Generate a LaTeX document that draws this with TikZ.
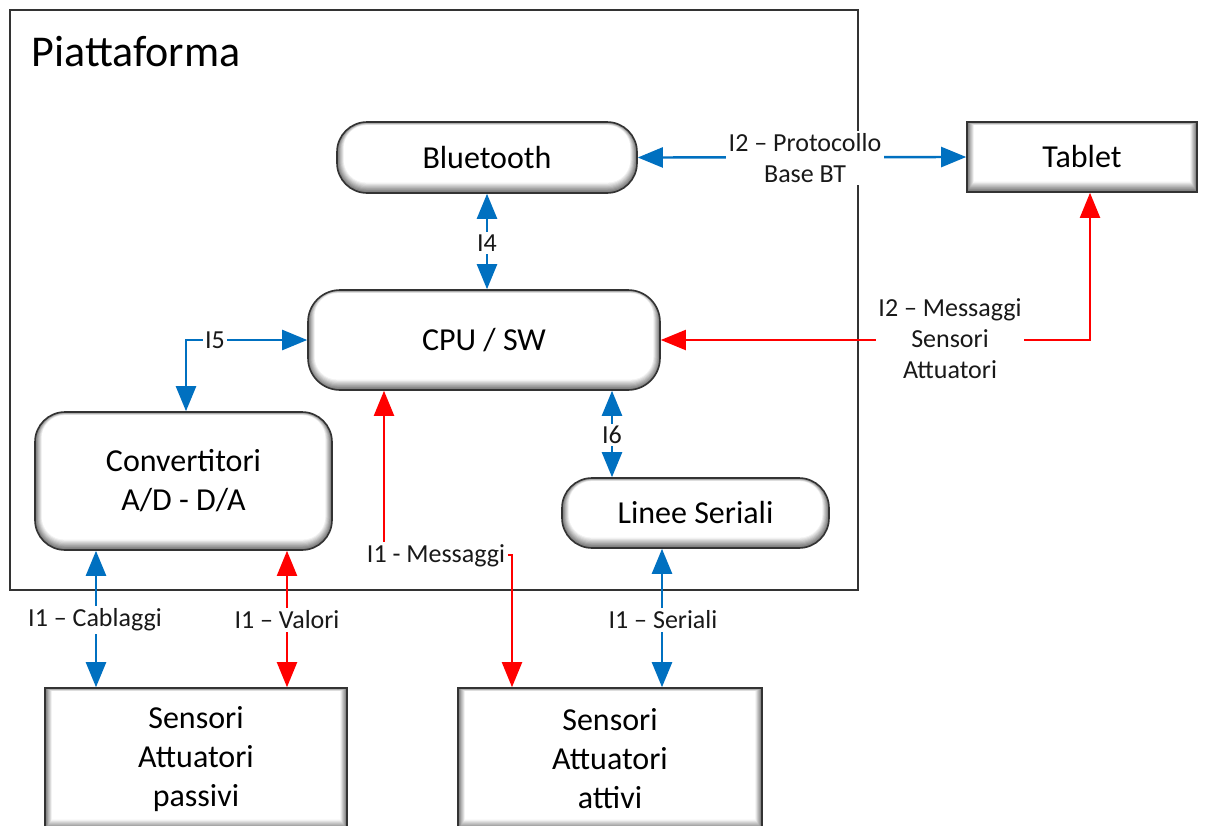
\documentclass[tikz,border=0pt]{standalone}
\usepackage{fontspec}
\setmainfont{Carlito}
\usetikzlibrary{arrows.meta}
\definecolor{cblue}{HTML}{0070C0}
\definecolor{cred}{HTML}{FF0000}
\newcommand\bevelfill[1]{%
  \foreach \k in {0,...,9} {%
    \pgfmathsetmacro\g{max(55-\k*6.2,0)}%
    \pgfmathsetmacro\rr{max(#1-\k*0.8,0.01)}%
    \fill[black!\g, rounded corners=\rr pt]
      ([shift={(\k*0.75pt,\k*1.15pt)}]path picture bounding box.south west) rectangle
      ([shift={(-\k*0.75pt,-\k*0.35pt)}]path picture bounding box.north east);
  }%
}
\begin{document}
\begin{tikzpicture}[x=1pt,y=-1pt,
  roundbox/.style={draw=black!80, line width=1.6pt, rounded corners=30pt, inner sep=0pt,
    path picture={\bevelfill{30}}, font=\fontsize{32}{39}\selectfont, align=center, text=black},
  sqbox/.style={draw=black!80, line width=1.6pt, inner sep=0pt,
    path picture={\bevelfill{0}}, font=\fontsize{32}{39}\selectfont, align=center, text=black},
  lbl/.style={fill=white, inner sep=2.5pt, font=\fontsize{26}{31}\selectfont, align=center, text=black!90},
  bconn/.style={draw=cblue, line width=2.4pt, {Triangle[length=25pt,width=20pt]}-{Triangle[length=25pt,width=20pt]}},
  rconn/.style={draw=cred, line width=2pt, {Triangle[length=25pt,width=20pt]}-{Triangle[length=25pt,width=20pt]}}
]
\useasboundingbox (0,0) rectangle (1205,825);
\clip (0,0) rectangle (1205,825);
\fill[white] (0,0) rectangle (1205,825);

% frame
\draw[black!80, line width=1.8pt] (10,10) rectangle (858,590);
\node[anchor=west, font=\fontsize{44}{52}\selectfont, text=black] (title) at (28,52) {Piattaforma};

% nodes
\node[roundbox, minimum width=300pt, minimum height=71pt] (bt) at (487,157.5) {Bluetooth};
\node[sqbox, minimum width=230pt, minimum height=70pt] (tab) at (1082,157) {Tablet};
\node[roundbox, minimum width=352pt, minimum height=100pt, rounded corners=32pt] (cpu) at (484,340) {CPU / SW};
\node[roundbox, minimum width=297pt, minimum height=138pt] (conv) at (183.5,481) {Convertitori\\A/D - D/A};
\node[roundbox, minimum width=267pt, minimum height=70pt] (lin) at (695.5,513) {Linee Seriali};
\node[sqbox, minimum width=302pt, minimum height=142pt] (pass) at (196,759) {Sensori\\Attuatori\\passivi};
\node[sqbox, minimum width=304pt, minimum height=142pt] (att) at (610,759) {Sensori\\Attuatori\\attivi};

% helper coordinates
\coordinate (x5) at (186,0);
\coordinate (x6) at (612,0);
\coordinate (xr) at (1090,0);
\coordinate (m1) at (384,555);
\coordinate (m2) at (512,555);
\coordinate (xcab) at (96,0);
\coordinate (xval) at (287,0);
\coordinate (xser) at (662,0);

% connectors
\draw[bconn] (bt.east) -- (tab.west);
\draw[bconn] (bt.south) -- (cpu.north -| bt.south);
\draw[bconn] (cpu.west) -| (conv.north -| x5);
\draw[bconn] (cpu.south -| x6) -- (lin.north -| x6);
\draw[rconn] (tab.south -| xr) |- (cpu.east);
\draw[rconn] (cpu.south -| m1) -- (m1) -- (m2) -- (att.north -| m2);
\draw[bconn] (conv.south -| xcab) -- (pass.north -| xcab);
\draw[rconn] (conv.south -| xval) -- (pass.north -| xval);
\draw[bconn] (lin.south -| xser) -- (att.north -| xser);

% labels
\node[lbl] (l2) at (805,158) {I2 – Protocollo\\Base BT};
\node[lbl] (l4) at (487,243) {I4};
\node[lbl] (l5) at (215,340) {I5};
\node[lbl] (l6) at (612,435) {I6};
\node[lbl] (l2m) at (950,339) {I2 – Messaggi\\Sensori\\Attuatori};
\node[lbl] (l1m) at (436,556) {I1 - Messaggi};
\node[lbl] (l1c) at (95,620) {I1 – Cablaggi};
\node[lbl] (l1v) at (287,620) {I1 – Valori};
\node[lbl] (l1s) at (663,620) {I1 – Seriali};
\end{tikzpicture}
\end{document}
